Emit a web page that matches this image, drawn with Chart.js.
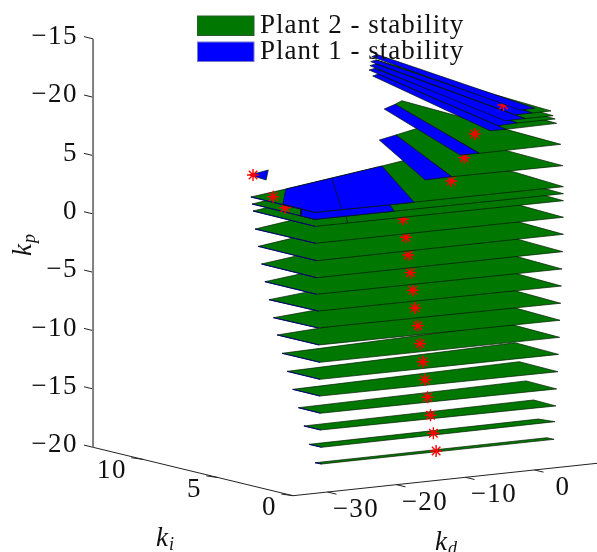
<!DOCTYPE html>
<html>
<head>
<meta charset="utf-8">
<style>
  html, body { margin: 0; padding: 0; background: #fff; }
  canvas { display: block; }
</style>
<script src="https://cdn.jsdelivr.net/npm/chart.js@4/dist/chart.umd.min.js"></script>
</head>
<body>
<canvas id="chart" width="597" height="552"></canvas>
<script>
// kp height of each stability slice, bottom to top
var layerKp = [-17.86, -16.36, -15.02, -13.57, -12.11, -10.63, -9.18, -7.72, -6.27, -4.8, -3.35, -1.87,
  -0.39, 1.07, 2.49, 3.09, 3.69, 5.5, 7.35, 9.19, 9.58, 9.88, 10.31, 10.7];

// plant 2 region on each slice (one row per slice, from the bottom)
var plant2Kd = [
  [-29.46, -29.32, 4.32, 4.27],
  [-29.67, -29.65, 4.47, 3.92],
  [-29.07, -29.05, 4.6, 4.84],
  [-29.06, -29.14, 4.71, 4.98],
  [-29.09, -29.12, 4.91, 5.2],
  [-29.34, -29.37, 5.02, 5.49],
  [-29.38, -29.34, 5.17, 5.7],
  [-29.34, -29.28, 5.22, 5.91, -10.95],
  [-29.58, -29.33, 5.33, 6.01, -10.27],
  [-29.68, -29.42, 5.43, 6.12, -9.45],
  [-29.64, -29.67, 5.54, 6.22, -8.5],
  [-29.8, -29.95, 5.64, 6.33, -8.19],
  [-29.97, -30.07, 5.74, 6.43, -7.91],
  [-30.17, -30.01, 5.74, 6.43, -8.11],
  [-29.77, -29.92, 5.74, 6.43, -7.71],
  [-29.87, -29.92, 5.74, 6.43, -7.81],
  [-30, -29.92, 5.74, 6.91, 0.4, -3.94, -23.18],
  [1.61, 7.14, 5.64, -10.12],
  [5.3, 7.47, 5.33, -6.59],
  [7.24, 4.71, -2.87],
  [7.31, 4.5, -1.01],
  [7.83, 4.18, 0.17],
  [7.45, 3.87, 1.13]
];
var plant2Ki = [
  [1.08, 0.7, 0.68, 1.14],
  [1.37, 0.55, 0.69, 1.54],
  [2, 0.89, 0.69, 2.29],
  [2.37, 0.86, 0.69, 2.85],
  [2.74, 0.9, 0.7, 3.41],
  [2.99, 0.79, 0.7, 3.81],
  [3.31, 0.81, 0.7, 4.34],
  [3.66, 0.89, 0.7, 4.35, 4.78],
  [3.8, 0.93, 0.7, 4.35, 5.35],
  [4.05, 0.88, 0.7, 4.35, 6.02],
  [4.34, 0.88, 0.71, 4.35, 6.72],
  [4.49, 0.74, 0.71, 4.35, 7.09],
  [4.63, 0.69, 0.71, 4.35, 7.43],
  [4.75, 0.79, 0.71, 4.35, 7.56],
  [5.07, 0.86, 0.71, 4.35, 7.87],
  [5.09, 0.86, 0.71, 4.35, 7.89],
  [5.11, 0.86, 0.71, 4.59, 8.95, 8.36, 5.92],
  [9.98, 10.91, 0.71, 0.86],
  [11.73, 12.28, 0.7, 0.64],
  [13.75, 0.69, 0.58],
  [14.03, 0.69, 0.69],
  [14.2, 0.68, 0.7],
  [14, 0.68, 0.67]
];

// plant 1 regions, each tied to a slice index
var plant1Layer = [15, 16, 17, 17, 18, 19, 20, 21, 22, 23];
var plant1Kd = [
  [-29.9, -29.92, -18.55, -7.54, -21.25],
  [-23.18, -29.72, -29.92, -15.78, -3.94],
  [-2.17, 1.61, -10.12, -14.18],
  [-25.8, -30.18, -29.72],
  [2.26, 5.3, -6.59, -9.25],
  [5.88, 7.24, -2.87, -5.06],
  [6.13, 7.31, -1.01, -4.05],
  [6.56, 7.83, 0.17, -2.75],
  [6.22, 7.45, 1.13, -1.34],
  [6.48, 7.94, 1.47, -0.75]
];
var plant1Ki = [
  [1.82, 0.86, 0.83, 7.17, 5.8],
  [5.92, 3.11, 0.86, 0.76, 8.36],
  [9.35, 9.98, 0.86, 0.77],
  [5.88, 4.01, 5.3],
  [11.06, 11.73, 0.64, 0.71],
  [13.49, 13.75, 0.58, 0.63],
  [13.85, 14.03, 0.69, 0.56],
  [13.99, 14.2, 0.7, 0.69],
  [13.78, 14, 0.67, 0.67],
  [13.83, 14.14, 0.64, 0.61]
];

// boundaries between patches on a slice
var seamLayer = [14, 16];
var seamKd = [[-22.8, -25.25], [-14.1, -25.98]];
var seamKi = [[2.07, 0.84], [7.03, 0.9]];

// red asterisks
var starLayer = [0, 1, 2, 3, 4, 5, 6, 7, 8, 9, 10, 11, 12, 13, 15, 16, 16, 17, 17, 18, 20, 22];
var starKd = [-12.41, -12.59, -11.9, -11.71, -11.77, -11.71, -11.53, -11.34, -11.28, -11.3, -11.25, -11.29,
  -11.35, -11.21, -28.12, -27.63, -3.21, -0.96, -29.4, 0.96, 1.86, 1.57];
var starKi = [0.85, 0.95, 1.46, 1.74, 1.88, 2.06, 2.33, 2.56, 2.77, 2.91, 3.1, 3.22,
  3.35, 3.59, 3.7, 4.71, 4.08, 4.24, 5.24, 4.42, 3.41, 2.79];

// axes
var kpTicks = [-20, -15, -10, -5, 0, 5, 10, 15];
var kpTickLabels = ['\u221220', '\u221215', '\u221210', '\u22125', '0', '5', '\u221220', '\u221215'];
var kiTicks = [0, 5, 10];
var kiTickLabels = ['0', '5', '10'];
var kdTicks = [-30, -20, -10, 0];
var kdTickLabels = ['\u221230', '\u221220', '\u221210', '0'];
var kdRange = [-35, 10];
var kiRange = [0, 13.33];
var kpRange = [-20, 15];

var legendLabels = ['Plant 2 - stability', 'Plant 1 - stability'];

var GREEN = '#007700';
var BLUE = '#0000ff';
var FONT = '"Liberation Serif"';

// orthographic view of the box, same idea as view(az, el) in the original plot
function project(kd, ki, kp) {
  var d = kd - kdRange[0];
  return {
    x: 293 + 6.9 * d - 15 * ki,
    y: 495.7 - 0.7355 * d - 3.63 * ki - 11.67 * (kp - kpRange[0])
  };
}

function polygon(kds, kis, kp, close) {
  var pts = [];
  for (var i = 0; i < kds.length; i++) {
    pts.push(project(kds[i], kis[i], kp));
  }
  if (close) pts.push(pts[0]);
  return pts;
}

function lineSet(pts, color, width, order) {
  return {
    data: pts,
    borderColor: color,
    borderWidth: width,
    pointRadius: 0,
    fill: false,
    order: order
  };
}

function patchSet(pts, color, order) {
  return {
    data: pts,
    borderColor: 'rgba(0,20,0,0.85)',
    borderWidth: 0.8,
    backgroundColor: color,
    pointRadius: 0,
    fill: 'shape',
    order: order
  };
}

var datasets = [];

// first dataset order is drawn last, so order goes down with height
function layerOrder(layer, step) {
  return 1000 - (layer * 10 + step);
}

for (var i = 0; i < plant2Kd.length; i++) {
  datasets.push(patchSet(polygon(plant2Kd[i], plant2Ki[i], layerKp[i], true), GREEN, layerOrder(i, 0)));
  if (i <= 16) {
    // plant 1 region shows as a thin blue rim along the left edge
    datasets.push(lineSet(polygon(plant2Kd[i].slice(0, 2), plant2Ki[i].slice(0, 2), layerKp[i], false), '#000080', 1, layerOrder(i, 1)));
  }
}
for (var j = 0; j < plant1Kd.length; j++) {
  var lay = plant1Layer[j];
  datasets.push(patchSet(polygon(plant1Kd[j], plant1Ki[j], layerKp[lay], true), BLUE, layerOrder(lay, 2)));
}
for (var s = 0; s < seamKd.length; s++) {
  datasets.push(lineSet(polygon(seamKd[s], seamKi[s], layerKp[seamLayer[s]], false), 'rgba(0,20,40,0.9)', 0.9, layerOrder(seamLayer[s], 3)));
}
for (var m = 0; m < starKd.length; m++) {
  datasets.push({
    data: [project(starKd[m], starKi[m], layerKp[starLayer[m]])],
    showLine: false,
    pointStyle: 'star',
    pointRadius: 6,
    pointBorderColor: '#ff0000',
    pointBackgroundColor: '#ff0000',
    pointBorderWidth: 1.4,
    order: layerOrder(starLayer[m], 4)
  });
}

// axis lines and tick marks
var kiEnd = kiRange[1];
var kdStart = kdRange[0];
datasets.push(lineSet([project(kdStart, kiEnd, kpRange[0]), project(kdStart, kiEnd, kpRange[1])], '#808080', 2, 2000));
datasets.push(lineSet([project(kdStart, kiEnd, kpRange[0]), project(kdStart, 0, kpRange[0])], '#222222', 1, 2000));
datasets.push(lineSet([project(kdStart, 0, kpRange[0]), project(kdRange[1], 0, kpRange[0])], '#222222', 1, 2000));
kpTicks.forEach(function (v) {
  datasets.push(lineSet([project(kdStart, kiEnd, v), project(kdStart, kiEnd + 0.6, v)], '#222222', 1, 2000));
});
kiTicks.forEach(function (v) {
  datasets.push(lineSet([project(kdStart, v, kpRange[0]), project(kdStart - 1.7, v, kpRange[0] + 0.25)], '#222222', 1, 2000));
});
kdTicks.forEach(function (v) {
  datasets.push(lineSet([project(v, 0, kpRange[0]), project(v, -0.6, kpRange[0])], '#222222', 1, 2000));
});

function drawSubscripted(ctx, sub, x, y) {
  ctx.textAlign = 'left';
  ctx.textBaseline = 'alphabetic';
  ctx.font = 'italic 27px ' + FONT;
  ctx.fillText('k', x, y);
  ctx.font = 'italic 18px ' + FONT;
  ctx.fillText(sub, x + 13, y + 4);
}

var annotations = {
  id: 'annotations',
  afterDraw: function (chart) {
    var ctx = chart.ctx;
    var sx = chart.scales.x;
    var sy = chart.scales.y;
    function px(p) {
      return { x: sx.getPixelForValue(p.x), y: sy.getPixelForValue(p.y) };
    }

    ctx.save();
    ctx.fillStyle = '#111111';
    ctx.font = '27px ' + FONT;
    ctx.letterSpacing = '1.5px';
    ctx.textBaseline = 'middle';

    ctx.textAlign = 'right';
    kpTicks.forEach(function (v, i) {
      var p = px(project(kdStart, kiEnd, v));
      ctx.fillText(kpTickLabels[i], p.x - 15, p.y - 2);
    });
    kiTicks.forEach(function (v, i) {
      var p = px(project(kdStart, v, kpRange[0]));
      ctx.fillText(kiTickLabels[i], p.x - 16, p.y + 12);
    });
    ctx.textAlign = 'center';
    kdTicks.forEach(function (v, i) {
      var p = px(project(v, 0, kpRange[0]));
      ctx.fillText(kdTickLabels[i], p.x + 28.5, p.y + 18);
    });

    ctx.letterSpacing = '0px';
    drawSubscripted(ctx, 'i', 156, 546);
    drawSubscripted(ctx, 'd', 435, 550);
    ctx.save();
    ctx.translate(31, 256);
    ctx.rotate(-Math.PI / 2);
    drawSubscripted(ctx, 'p', 0, 0);
    ctx.restore();

    // legend
    var colors = [GREEN, BLUE];
    var edges = ['#2c5c2c', '#7878c8'];
    var boxTop = [16, 42];
    var textBase = [33, 59];
    for (var i = 0; i < legendLabels.length; i++) {
      ctx.fillStyle = colors[i];
      ctx.strokeStyle = edges[i];
      ctx.lineWidth = 1;
      ctx.fillRect(197.5, boxTop[i], 56.5, 19.5);
      ctx.strokeRect(197.5, boxTop[i], 56.5, 19.5);
      ctx.fillStyle = '#111111';
      ctx.font = '27px ' + FONT;
      ctx.letterSpacing = '1px';
      ctx.textAlign = 'left';
      ctx.textBaseline = 'alphabetic';
      ctx.fillText(legendLabels[i], 260, textBase[i]);
    }
    ctx.restore();
  }
};

new Chart(document.getElementById('chart').getContext('2d'), {
  type: 'line',
  data: { datasets: datasets },
  plugins: [annotations],
  options: {
    responsive: false,
    animation: false,
    events: [],
    layout: { padding: 0, autoPadding: false },
    elements: { line: { tension: 0 } },
    plugins: { legend: { display: false }, tooltip: { enabled: false } },
    scales: {
      x: { type: 'linear', min: 0, max: 597, display: false },
      y: { type: 'linear', min: 0, max: 552, reverse: true, display: false }
    }
  }
});
</script>
</body>
</html>
